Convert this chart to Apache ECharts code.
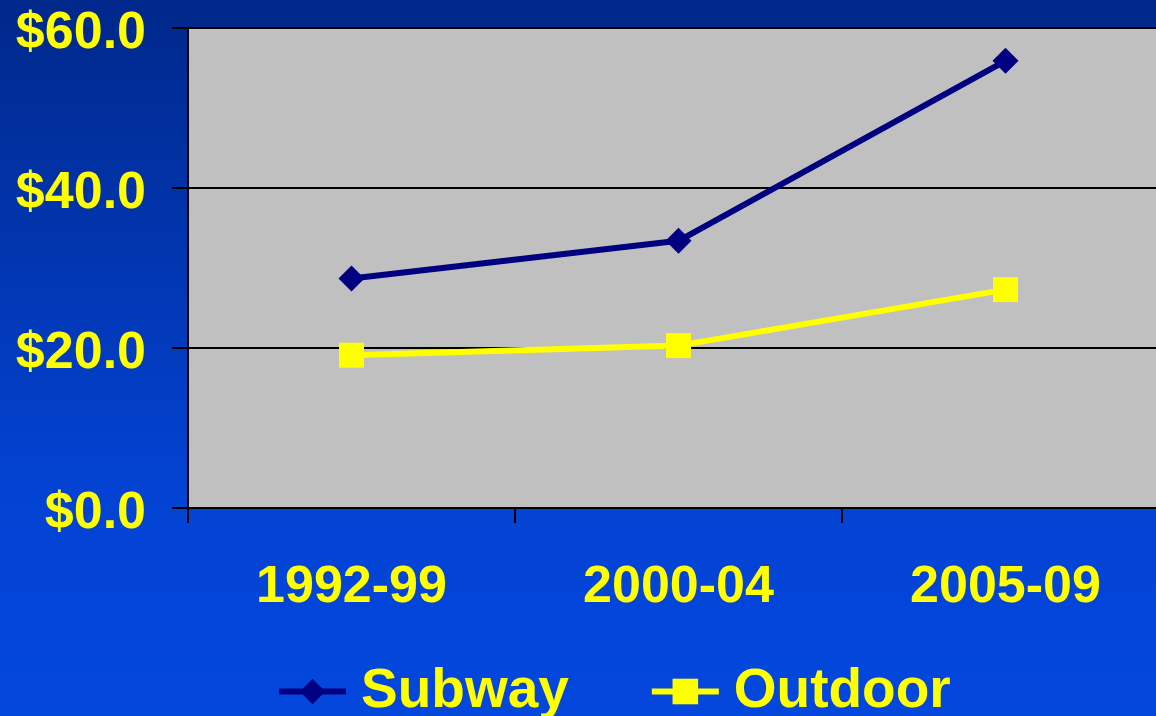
<!DOCTYPE html>
<html><head><meta charset="utf-8">
<script src="https://cdn.jsdelivr.net/npm/echarts@6/dist/echarts.min.js"></script>
<style>html,body{margin:0;padding:0;overflow:hidden;width:1156px;height:716px;}#c{width:1169px;height:716px;}</style>
</head><body><div id="c"></div>
<script>
const categories = ['1992-99', '2000-04', '2005-09'];
const subway = [28.7, 33.4, 55.9];
const outdoor = [19.1, 20.3, 27.3];
const yTicks = [0, 20, 40, 60];

const chart = echarts.init(document.getElementById('c'));
const font = 'Liberation Sans, Arial, sans-serif';
chart.setOption({
  animation: false,
  backgroundColor: new echarts.graphic.LinearGradient(0, 0, 0, 1, [
    {offset: 0, color: '#00288b'},
    {offset: 0.7, color: '#0343d4'},
    {offset: 1, color: '#0447dd'}
  ]),
  grid: {left: 188, right: 0, top: 28, height: 480, show: true, backgroundColor: '#c0c0c0', borderColor: '#7a7a7a', borderWidth: 1.5},
  legend: {
    top: 659, left: 271,
    itemWidth: 67, itemHeight: 32, itemGap: 80,
    textStyle: {color: '#ffff00', fontFamily: font, fontWeight: 'bold', fontSize: 55, padding: [0, 0, 0, 10]},
    data: [
      {name: 'Subway', lineStyle: {width: 6}},
      {name: 'Outdoor', lineStyle: {width: 6}}
    ]
  },
  xAxis: {
    type: 'category', data: categories, boundaryGap: true,
    axisLine: {lineStyle: {color: '#000', width: 2}},
    axisTick: {show: true, length: 15, lineStyle: {color: '#000', width: 2}},
    axisLabel: {color: '#ffff00', fontFamily: font, fontWeight: 'bold', fontSize: 52, margin: 54}
  },
  yAxis: {
    type: 'value', min: yTicks[0], max: yTicks[yTicks.length - 1], interval: 20,
    axisLine: {show: true, lineStyle: {color: '#000', width: 2}},
    axisTick: {show: true, length: 16, lineStyle: {color: '#000', width: 2}},
    splitLine: {lineStyle: {color: '#000', width: 2}},
    axisLabel: {color: '#ffff00', fontFamily: font, fontWeight: 'bold', fontSize: 52, margin: 42,
      formatter: v => '{a|$' + v.toFixed(1) + '}',
      rich: {a: {color: '#ffff00', fontFamily: font, fontWeight: 'bold', fontSize: 52, padding: [12, 0, 0, 0]}}}
  },
  series: [
    {name: 'Subway', type: 'line', data: subway, symbol: 'diamond', symbolSize: 26,
      lineStyle: {color: '#000080', width: 6}, itemStyle: {color: '#000080'}},
    {name: 'Outdoor', type: 'line', data: outdoor, symbol: 'rect', symbolSize: 25,
      lineStyle: {color: '#ffff00', width: 6}, itemStyle: {color: '#ffff00'}}
  ]
});
</script></body></html>
